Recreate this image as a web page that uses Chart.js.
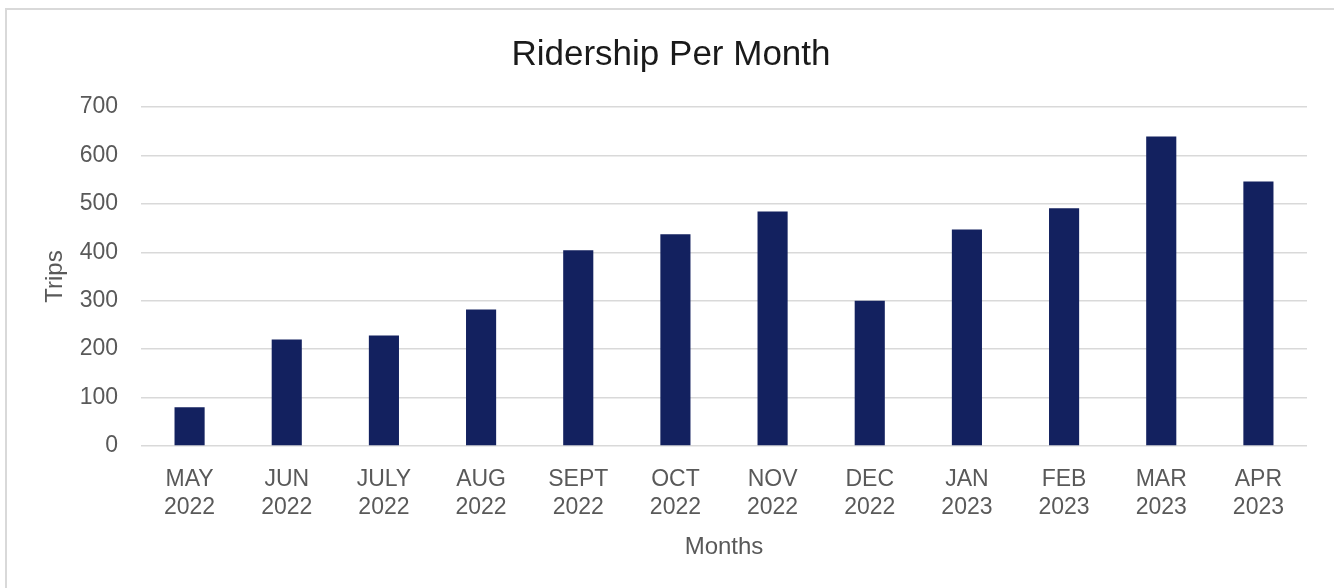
<!DOCTYPE html>
<html>
<head>
<meta charset="utf-8">
<script src="https://cdn.jsdelivr.net/npm/chart.js@4.4.0/dist/chart.umd.min.js"></script>
<style>
  html, body { margin: 0; padding: 0; background: #fff; overflow: hidden; }
  #frame {
    position: absolute; left: 5px; top: 8px; width: 1400px; height: 700px;
    border-top: 2px solid #d9d9d9; border-left: 2px solid #d9d9d9;
  }
  #wrap { position: absolute; left: 0; top: 0; width: 1334px; height: 588px; }
</style>
</head>
<body>
<div id="frame"></div>
<div id="wrap"><canvas id="ridershipChart"></canvas></div>
<script>
const months = ['MAY', 'JUN', 'JULY', 'AUG', 'SEPT', 'OCT', 'NOV', 'DEC', 'JAN', 'FEB', 'MAR', 'APR'];
const years = ['2022', '2022', '2022', '2022', '2022', '2022', '2022', '2022', '2023', '2023', '2023', '2023'];
const trips = [80, 220, 228, 282, 404, 437, 484, 300, 447, 491, 639, 546];
const yTicks = [0, 100, 200, 300, 400, 500, 600, 700];

const fontFamily = '"Liberation Sans", Arial, Helvetica, sans-serif';
const grey = '#595959';

function drawChart() {
    let ctx = document.getElementById('ridershipChart').getContext('2d');

    // Two-line category labels: month on top, year below
    let labels = months.map((m, i) => [m, years[i]]);

    window.ridershipChart = new Chart(ctx, {
        type: 'bar',
        data: {
            labels: labels,
            datasets: [
                {
                    label: 'Trips',
                    data: trips,
                    backgroundColor: '#13215f',
                    borderWidth: 0,
                    barPercentage: 0.31,
                    categoryPercentage: 1
                }
            ]
        },
        options: {
            responsive: true,
            maintainAspectRatio: false,
            animation: false,
            layout: { padding: { left: 35, right: 27, top: 0, bottom: 0 } },
            plugins: {
                legend: { display: false },
                tooltip: { enabled: false },
                title: {
                    display: true,
                    text: 'Ridership Per Month',
                    color: '#1a1a1a',
                    font: { family: fontFamily, size: 35, weight: 'normal' },
                    padding: { top: 34, bottom: 31 }
                }
            },
            scales: {
                x: {
                    grid: { display: false, drawTicks: false },
                    border: { display: false },
                    ticks: {
                        color: grey,
                        font: { family: fontFamily, size: 23 },
                        padding: 20,
                        maxRotation: 0,
                        autoSkip: false
                    },
                    title: {
                        display: true,
                        text: 'Months',
                        color: grey,
                        font: { family: fontFamily, size: 24 },
                        padding: { top: 0, bottom: 26 }
                    },
                    afterFit: (scale) => { scale.height = 142; }
                },
                y: {
                    min: 0,
                    max: 700,
                    afterBuildTicks: (scale) => {
                        scale.ticks = yTicks.map(v => ({ value: v }));
                    },
                    grid: { color: '#d9d9d9', lineWidth: 1.5, drawTicks: false },
                    border: { display: false },
                    ticks: {
                        color: grey,
                        font: { family: fontFamily, size: 23 },
                        padding: 23
                    },
                    title: {
                        display: true,
                        text: 'Trips',
                        color: grey,
                        font: { family: fontFamily, size: 24 },
                        padding: { top: 6, bottom: 0 }
                    },
                    afterFit: (scale) => { scale.width = 106; }
                }
            }
        }
    });
}

document.addEventListener('DOMContentLoaded', drawChart);
</script>
</body>
</html>
